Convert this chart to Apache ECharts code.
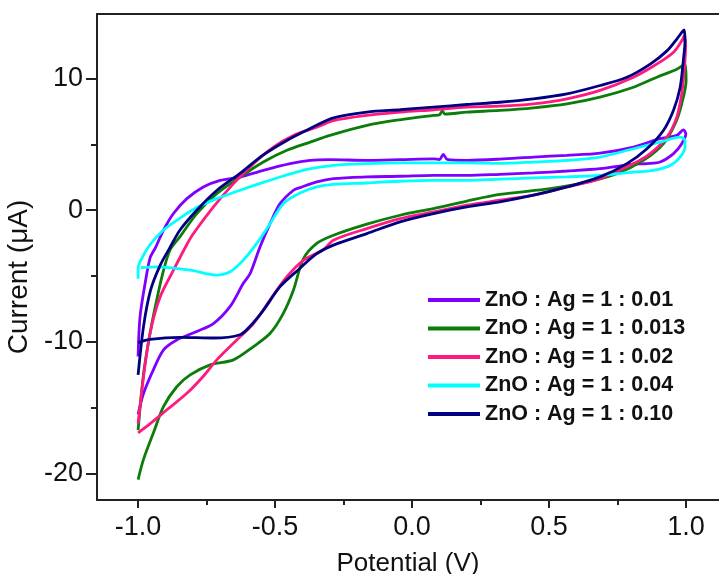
<!DOCTYPE html>
<html>
<head>
<meta charset="utf-8">
<script src="https://cdn.jsdelivr.net/npm/echarts@6/dist/echarts.min.js"></script>
<style>
html,body{margin:0;padding:0;background:#fff;}
#c{width:719px;height:574px;}
</style>
</head>
<body>
<div id="c"></div>
<script>
// ---- data (Potential V, Current µA) ----
const seriesNames = ['ZnO : Ag = 1 : 0.01','ZnO : Ag = 1 : 0.013','ZnO : Ag = 1 : 0.02','ZnO : Ag = 1 : 0.04','ZnO : Ag = 1 : 0.10'];
const xMajorTicks = [-1.0,-0.5,0.0,0.5,1.0];
const xMinorTicks = [-0.75,-0.25,0.25,0.75];
const yMajorTicks = [-20,-10,0,10];
const yMinorTicks = [-15,-5,5];

const cv001 = [
 [-1.0,-11.1],[-0.993,-8.1],[-0.974,-5.5],[-0.956,-3.6],[-0.938,-2.9],[-0.907,-1.5],[-0.871,-0.25],[-0.822,0.88],[-0.762,1.77],[-0.70,2.27],[-0.628,2.52],[-0.543,3.03],[-0.445,3.54],[-0.372,3.79],[-0.30,3.84],[-0.165,3.79],[-0.044,3.84],[0.078,3.9],[0.10,3.85],[0.114,4.24],[0.128,3.86],[0.20,3.79],[0.32,3.88],[0.443,4.04],[0.565,4.17],[0.686,4.34],[0.808,4.8],[0.905,5.43],[0.966,5.68],[0.99,6.1],
 [0.999,5.8],[0.984,5.05],[0.954,4.3],[0.905,3.66],[0.857,3.54],[0.808,3.5],[0.686,3.16],[0.565,2.98],[0.443,2.83],[0.32,2.73],[0.20,2.65],[0.078,2.65],[-0.044,2.58],[-0.165,2.53],[-0.287,2.4],[-0.348,2.15],[-0.409,1.72],[-0.433,1.52],[-0.482,0.5],[-0.518,-1.0],[-0.555,-2.78],[-0.591,-4.8],[-0.616,-5.55],[-0.664,-7.3],[-0.725,-8.6],[-0.786,-9.2],[-0.859,-9.85],[-0.907,-10.6],[-0.944,-12.1],[-0.98,-13.9],[-1.0,-15.5]
];
const cv0013 = [
 [-1.0,-16.7],[-0.98,-12.4],[-0.956,-9.3],[-0.932,-6.8],[-0.907,-4.55],[-0.883,-3.0],[-0.847,-2.0],[-0.786,-0.25],[-0.713,1.26],[-0.628,2.52],[-0.543,3.66],[-0.457,4.55],[-0.372,5.17],[-0.30,5.68],[-0.165,6.44],[-0.044,6.87],[0.078,7.2],[0.10,7.25],[0.11,7.55],[0.12,7.3],[0.20,7.45],[0.32,7.58],[0.443,7.78],[0.565,8.08],[0.686,8.59],[0.808,9.34],[0.893,10.1],[0.966,10.7],[0.996,11.1],
 [1.0,9.85],[0.984,8.08],[0.96,6.57],[0.917,5.05],[0.844,3.79],[0.747,2.78],[0.625,2.07],[0.504,1.64],[0.32,1.2],[0.20,0.7],[0.078,0.13],[-0.044,-0.38],[-0.165,-1.06],[-0.287,-1.9],[-0.348,-2.52],[-0.397,-3.7],[-0.433,-6.06],[-0.47,-7.83],[-0.518,-9.34],[-0.579,-10.35],[-0.652,-11.36],[-0.737,-11.74],[-0.81,-12.5],[-0.859,-13.4],[-0.907,-14.9],[-0.944,-16.9],[-0.98,-18.9],[-1.0,-20.45]
];
const cv002 = [
 [-1.0,-16.2],[-0.98,-12.6],[-0.956,-9.3],[-0.92,-6.6],[-0.871,-4.55],[-0.822,-2.6],[-0.798,-1.77],[-0.725,0.25],[-0.652,2.02],[-0.579,3.54],[-0.506,4.8],[-0.433,5.68],[-0.348,6.3],[-0.287,6.8],[-0.165,7.2],[-0.044,7.45],[0.078,7.63],[0.20,7.83],[0.32,7.9],[0.443,8.08],[0.565,8.46],[0.686,9.1],[0.808,10.1],[0.893,11.1],[0.954,12.0],[0.988,13.0],[0.993,13.26],
 [0.998,12.4],[0.993,10.6],[0.984,8.84],[0.966,7.07],[0.93,5.55],[0.869,4.3],[0.808,3.54],[0.686,2.4],[0.565,1.77],[0.443,1.14],[0.32,0.76],[0.20,0.38],[0.078,-0.13],[-0.044,-0.63],[-0.165,-1.39],[-0.287,-2.27],[-0.324,-3.0],[-0.397,-3.8],[-0.457,-5.05],[-0.518,-6.8],[-0.579,-8.6],[-0.64,-9.85],[-0.713,-11.36],[-0.762,-12.6],[-0.822,-13.9],[-0.895,-15.15],[-0.956,-16.2],[-1.0,-16.9]
];
const cv004 = [
 [-1.0,-5.2],[-1.0,-4.4],[-0.985,-3.6],[-0.956,-2.6],[-0.907,-1.5],[-0.847,-0.6],[-0.786,0.2],[-0.713,0.88],[-0.628,1.52],[-0.543,2.12],[-0.47,2.6],[-0.384,3.1],[-0.287,3.4],[-0.165,3.54],[-0.044,3.6],[0.078,3.6],[0.20,3.6],[0.32,3.56],[0.443,3.66],[0.565,3.79],[0.686,4.04],[0.808,4.67],[0.905,5.17],[0.978,5.55],[0.996,5.3],
 [0.996,4.8],[0.978,4.04],[0.942,3.4],[0.88,3.03],[0.808,2.9],[0.686,2.65],[0.565,2.53],[0.443,2.45],[0.32,2.36],[0.20,2.27],[0.078,2.27],[-0.044,2.2],[-0.165,2.07],[-0.287,1.97],[-0.348,1.77],[-0.409,1.3],[-0.47,0.5],[-0.518,-1.0],[-0.567,-2.52],[-0.616,-3.79],[-0.664,-4.67],[-0.713,-4.92],[-0.81,-4.55],[-0.932,-4.3],[-0.99,-4.35]
];
const cv010 = [
 [-1.0,-12.5],[-0.98,-8.8],[-0.955,-6.1],[-0.92,-4.2],[-0.883,-2.8],[-0.847,-1.5],[-0.786,0.0],[-0.713,1.5],[-0.628,2.8],[-0.543,4.2],[-0.457,5.3],[-0.372,6.2],[-0.29,7.0],[-0.165,7.45],[-0.044,7.63],[0.078,7.83],[0.20,8.03],[0.32,8.2],[0.443,8.46],[0.565,8.84],[0.686,9.47],[0.784,10.1],[0.869,11.1],[0.93,12.1],[0.966,13.0],[0.988,13.6],[0.993,13.7],
 [0.996,12.9],[0.99,11.4],[0.978,9.3],[0.954,7.6],[0.917,6.06],[0.857,4.67],[0.784,3.54],[0.686,2.53],[0.565,1.77],[0.443,1.14],[0.32,0.63],[0.20,0.25],[0.078,-0.25],[-0.044,-0.88],[-0.165,-1.77],[-0.287,-2.65],[-0.348,-3.3],[-0.409,-4.4],[-0.482,-5.8],[-0.543,-7.6],[-0.591,-8.8],[-0.628,-9.45],[-0.725,-9.7],[-0.847,-9.65],[-0.956,-9.8],[-1.0,-10.05]
];
const seriesData = [cv001, cv0013, cv002, cv004, cv010];
const colors = ['#8000ff','#0a7d0a','#ff1a7f','#00ffff','#000080'];

// ---- chart ----
const chart = echarts.init(document.getElementById('c'), null, {renderer:'canvas'});
const axisColor = '#222';
const font = 'Arial, "Liberation Sans", sans-serif';
function xAxisBase(extra){
  return Object.assign({type:'value', min:-1.15, max:1.12, splitLine:{show:false},
    axisLine:{show:false, onZero:false}, axisTick:{show:false}, axisLabel:{show:false}}, extra);
}
function yAxisBase(extra){
  return Object.assign({type:'value', min:-22, max:14.9, splitLine:{show:false},
    axisLine:{show:false, onZero:false}, axisTick:{show:false}, axisLabel:{show:false}}, extra);
}
const option = {
  animation:false,
  backgroundColor:'#fff',
  color: colors,
  grid:{left:97, right:0, top:14, bottom:74, containLabel:false, outerBoundsMode:'none'},
  legend:{
    orient:'vertical', left:428, top:289, padding:0, itemWidth:52, itemHeight:4, itemGap:6.5,
    icon:'rect',
    textStyle:{fontFamily:font, fontWeight:'bold', fontSize:21.5, color:'#111', lineHeight:21},
    data: seriesNames
  },
  xAxis:[
    xAxisBase({position:'bottom',
      axisLine:{show:true, onZero:false, lineStyle:{color:axisColor, width:2}},
      axisTick:{show:true, length:8, customValues:xMajorTicks, lineStyle:{color:axisColor, width:2}},
      axisLabel:{show:true, customValues:xMajorTicks, formatter:v=>v.toFixed(1), margin:14,
        fontFamily:font, fontSize:27, color:'#111'},
      name:'Potential (V)', nameLocation:'middle', nameGap:51,
      nameTextStyle:{fontFamily:font, fontSize:26, color:'#111'}
    }),
    xAxisBase({position:'bottom',
      axisTick:{show:true, length:5, customValues:xMinorTicks, lineStyle:{color:axisColor, width:2}}
    }),
    xAxisBase({position:'top',
      axisLine:{show:true, onZero:false, lineStyle:{color:axisColor, width:2}}
    })
  ],
  yAxis:[
    yAxisBase({position:'left',
      axisLine:{show:true, onZero:false, lineStyle:{color:axisColor, width:2}},
      axisTick:{show:true, length:11, customValues:yMajorTicks, lineStyle:{color:axisColor, width:2}},
      axisLabel:{show:true, customValues:yMajorTicks, margin:14, fontFamily:font, fontSize:27, color:'#111'},
      name:'Current (\u03bcA)', nameLocation:'middle', nameGap:52, nameRotate:90,
      nameTextStyle:{fontFamily:font, fontSize:28, color:'#111', padding:[0,40,0,0]}
    }),
    yAxisBase({position:'left',
      axisTick:{show:true, length:6, customValues:yMinorTicks, lineStyle:{color:axisColor, width:2}}
    })
  ],
  series: seriesNames.map((n,i)=>({
    name:n, type:'line', xAxisIndex:0, yAxisIndex:0, data:seriesData[i],
    showSymbol:false, symbol:'none', smooth:0.3,
    lineStyle:{width:2.8, color:colors[i]}, itemStyle:{color:colors[i]}, z:2+ (i===4?5:i)
  }))
};
chart.setOption(option);
</script>
</body>
</html>
